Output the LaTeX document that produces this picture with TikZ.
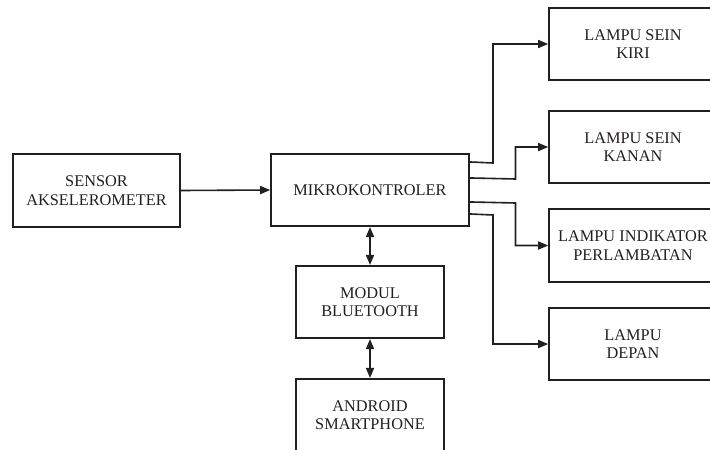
\documentclass[tikz,border=0pt]{standalone}
\usepackage{fontspec}
\setmainfont{Liberation Serif}
\usetikzlibrary{arrows.meta,calc}
\definecolor{ink}{HTML}{231F20}
\begin{document}
\begin{tikzpicture}[x=1pt,y=-1pt,
  blk/.style={draw=ink,text=ink,line width=1.6pt,inner sep=0pt,align=center,
    font=\fontsize{16.3}{18.5}\selectfont,minimum height=72.5pt},
  arr/.style={draw=ink,line width=1.6pt,-{Triangle[length=10pt,width=8pt]}},
  darr/.style={draw=ink,line width=1.6pt,{Triangle[length=10pt,width=8pt]}-{Triangle[length=10pt,width=8pt]}}]
\useasboundingbox (0,0) rectangle (710,450);
\clip (0,0) rectangle (710,450);
\node[blk,minimum width=167pt] (sensor) at (96.5,190.5) {SENSOR\\AKSELEROMETER};
\node[blk,minimum width=198pt] (mikro) at (370,190) {MIKROKONTROLER};
\node[blk,minimum width=148pt] (bt) at (370,302) {MODUL\\BLUETOOTH};
\node[blk,minimum width=148pt] (andr) at (370,415) {ANDROID\\SMARTPHONE};
\node[blk,minimum width=168pt] (k1) at (633,44) {LAMPU SEIN\\KIRI};
\node[blk,minimum width=168pt] (k2) at (633,147) {LAMPU SEIN\\KANAN};
\node[blk,minimum width=168pt] (k3) at (633,245.5) {LAMPU INDIKATOR\\PERLAMBATAN};
\node[blk,minimum width=168pt] (k4) at (633,344) {LAMPU\\DEPAN};
\draw[arr] (sensor.east) -- (mikro.west);
\draw[darr] (mikro.south) -- (bt.north);
\draw[darr] (bt.south) -- (andr.north);
\coordinate (s1) at ($(mikro.north east)+(0,9)$);
\coordinate (s2) at ($(mikro.north east)+(0,25)$);
\coordinate (s3) at ($(mikro.north east)+(0,49)$);
\coordinate (s4) at ($(mikro.north east)+(0,61)$);
\coordinate (b1) at (493,163);
\coordinate (b2) at (515.5,179);
\coordinate (b3) at (515.5,203);
\coordinate (b4) at (493,215);
\draw[arr] (s1) -- (b1) |- (k1.west);
\draw[arr] (s2) -- (b2) |- (k2.west);
\draw[arr] (s3) -- (b3) |- (k3.west);
\draw[arr] (s4) -- (b4) |- (k4.west);
\end{tikzpicture}
\end{document}
